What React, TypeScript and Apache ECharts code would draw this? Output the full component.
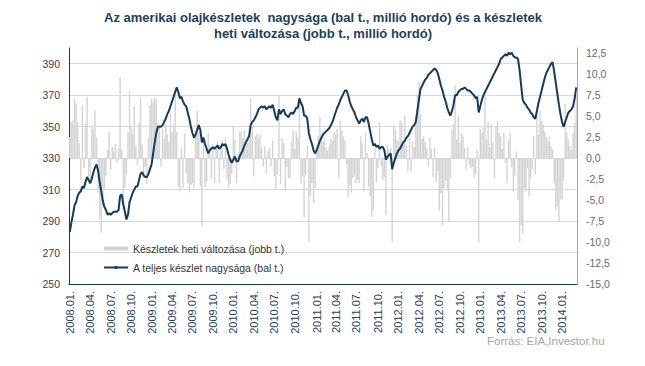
import { useEffect, useRef } from 'react';
import * as echarts from 'echarts';

// Weekly US crude oil inventory (million barrels), Jan 2008 – Mar 2014
const inventory = [
  283, 289, 294, 300, 302, 306, 308, 309, 312, 311,
  315, 318, 316, 314, 317, 321, 324, 326, 322, 315,
  309, 303, 299, 297, 294, 295, 294, 295, 296, 296,
  296, 297, 306, 307, 301, 296, 291, 294, 302, 305,
  308, 310, 312, 312, 316, 320, 321, 319, 318, 318,
  320, 323, 326, 333, 340, 346, 350, 350, 350, 351,
  353, 355, 358, 360, 363, 366, 369, 372, 375, 372,
  368, 369, 366, 364, 363, 359, 355, 350, 346, 343,
  345, 348, 351, 348, 340, 343, 339, 336, 333, 335,
  336, 337, 336, 337, 338, 336, 337, 339, 338, 339,
  336, 332, 329, 327, 329, 331, 328, 328, 331, 333,
  335, 338, 340, 342, 344, 351, 353, 354, 356, 358,
  361, 362, 363, 362, 363, 361, 362, 363, 362, 364,
  360, 356, 354, 361, 358, 360, 361, 358, 357, 356,
  358, 359, 358, 360, 362, 362, 368, 365, 363, 357,
  357, 355, 346, 342, 339, 335, 333, 335, 338, 341,
  343, 345, 346, 347, 348, 349, 351, 353, 356, 359,
  362, 364, 367, 369, 371, 373, 373, 370, 366, 363,
  361, 359, 356, 354, 352, 354, 355, 353, 356, 356,
  352, 347, 342, 338, 339, 337, 338, 336, 337, 337,
  335, 329, 331, 332, 333, 323, 327, 330, 333, 335,
  336, 338, 340, 341, 343, 344, 346, 348, 350, 351,
  353, 360, 367, 374, 376, 378, 380, 381, 383, 384,
  385, 386, 387, 386, 384, 380, 376, 373, 369, 366,
  362, 359, 357, 360, 364, 370, 370, 372, 373, 374,
  374, 375, 374, 373, 373, 372, 371, 370, 368, 369,
  359, 363, 367, 370, 372, 374, 376, 378, 380, 382,
  384, 386, 388, 390, 393, 394, 395, 396, 395, 397,
  396, 397, 395, 394, 394, 393, 386, 376, 367, 365,
  364, 362, 361, 359, 358, 356, 355, 360, 365, 369,
  373, 377, 381, 384, 386, 388, 390, 391, 385, 378,
  371, 364, 358, 353, 350, 353, 356, 359, 360, 361,
  363, 368, 375,
];

// Weekly change of inventory (million barrels)
const weeklyChange = [
  2.5, 4.3, 4.5, 7.1, 6.5, 4.3, 1.8, -2.6, 6.3, -1.2,
  4.1, 7.3, -2.2, -2.9, 3.9, 3.5, 5.6, 2.4, -4.1, -7.2,
  -8.9, -5.7, -3.8, -2.1, 1.0, 3.2, -1.4, 1.3, 0.8, 1.7,
  -0.6, 1.2, 9.6, 1.0, -6.1, -3.5, -1.9, 3.0, 8.0, 3.7,
  2.9, 6.1, 1.4, -0.8, 4.2, 7.1, 1.6, -2.3, -1.1, -3.1,
  2.4, 6.3, 7.0, 6.6, 7.2, 6.9, 4.2, 3.9, -1.0, 3.5,
  2.3, 3.9, 2.8, 1.9, 5.3, 3.1, 4.0, 8.0, 3.1, -3.4,
  -4.0, 1.2, -3.6, 3.0, -1.8, -3.0, -4.1, -3.2, -3.0, -3.5,
  2.4, 5.6, 3.1, -3.4, -8.1, 2.6, -3.5, -2.8, 3.0, 1.4,
  -2.5, 1.6, -3.0, 1.3, 2.0, -3.0, 1.2, 2.1, -1.3, 2.4,
  -2.6, -3.5, -3.1, -1.9, 3.7, 2.2, -3.0, 0.6, 3.1, 3.2,
  2.4, 3.3, 2.0, 1.8, 2.2, 7.1, 3.8, -2.2, 2.6, 2.9,
  2.3, 2.8, 1.2, -1.0, 1.4, -1.9, 0.9, 1.2, -1.0, 2.1,
  -2.2, -3.8, -2.0, 7.5, -3.1, 2.4, 1.8, -3.9, -1.1, -2.4,
  -2.4, 2.0, 3.3, 1.1, 3.2, 2.4, 7.1, -3.1, -2.2, -7.1,
  -2.0, 1.5, -10.0, -4.5, -3.0, -5.4, -3.6, 1.3, 2.7, 4.9,
  2.4, 1.9, 2.4, 1.2, 0.9, 1.5, 2.3, 2.1, 3.1, 2.8,
  3.5, -2.4, 4.4, 3.3, 2.6, 2.1, -0.8, -4.6, -3.2, -4.1,
  -2.4, -2.1, -3.0, -2.6, -3.0, 2.6, 1.8, -4.0, 3.0, 0.6,
  -3.4, -4.6, -7.0, -6.2, 1.1, -2.9, -1.2, 4.3, -1.0, -2.6,
  -2.3, -6.8, 1.5, 1.0, 1.2, -10.0, 3.9, 3.4, 2.2, 2.0,
  4.5, 4.2, 1.6, 5.0, 1.4, -1.6, 2.4, -1.6, 2.0, 1.3,
  4.8, 7.6, 9.1, 5.2, 2.3, 2.6, 1.9, 1.2, -1.0, 2.4,
  1.1, -2.3, 1.2, -2.9, -1.6, -6.3, -4.2, -8.0, -3.6, -2.7,
  -3.8, -7.6, -2.4, 3.4, 4.1, 8.7, 2.2, 5.0, 1.8, 3.0,
  2.6, 1.2, -1.4, 1.3, -0.8, -1.2, -1.1, -2.4, -2.0, 1.0,
  -10.0, 3.5, 3.0, 3.6, 7.5, 2.2, 4.3, 1.3, 4.0, 1.8,
  -2.4, 3.7, 4.4, 3.0, 2.6, 1.1, 3.0, -0.6, -3.0, 2.1,
  3.0, -1.1, -4.0, -2.1, 0.8, -5.0, -10.0, -8.0, -9.0, -3.6,
  -4.0, -1.2, -4.6, -2.4, -1.3, 2.6, -1.9, 5.2, 2.8, 5.6,
  4.4, 4.0, 3.1, 2.5, 2.0, 2.6, 1.4, 1.0, -3.0, -6.2,
  -5.8, -7.5, -4.9, -5.0, -2.7, 6.5, 3.0, 2.2, 1.4, 1.0,
  3.0, 4.2, 7.6,
];

const tickLabels = [
  '2008.01.', '2008.04.', '2008.07.', '2008.10.',
  '2009.01.', '2009.04.', '2009.07.', '2009.10.',
  '2010.01.', '2010.04.', '2010.07.', '2010.10.',
  '2011.01.', '2011.04.', '2011.07.', '2011.10.',
  '2012.01.', '2012.04.', '2012.07.', '2012.10.',
  '2013.01.', '2013.04.', '2013.07.', '2013.10.',
  '2014.01.',
];

const leftTickLabels = [250, 270, 290, 310, 330, 350, 370, 390];

const FIRST_WEEK = Date.UTC(2008, 0, 4);
const categories = inventory.map((_, i) => {
  const d = new Date(FIRST_WEEK + i * 7 * 86400000);
  return d.toISOString().slice(0, 10);
});

const labelByIndex = new Map<number, string>();
{
  let k = 0;
  let prevMonth = -1;
  categories.forEach((c, i) => {
    const m = Number(c.slice(5, 7)) - 1;
    if (m !== prevMonth && m % 3 === 0 && k < tickLabels.length) {
      labelByIndex.set(i, tickLabels[k]);
      k++;
    }
    prevMonth = m;
  });
}

const NAVY = '#133b5c';
const TITLE =
  'Az amerikai olajkészletek  nagysága (bal t., millió hordó) és a készletek\nheti változása (jobb t., millió hordó)';

export default function App() {
  const ref = useRef<HTMLDivElement>(null);

  useEffect(() => {
    if (!ref.current) return;
    const chart = echarts.init(ref.current, undefined, { renderer: 'svg' });
    chart.setOption({
      animation: false,
      backgroundColor: '#ffffff',
      grid: { left: 69, right: 68, top: 48, bottom: 82, containLabel: false },
      legend: {
        orient: 'vertical',
        left: 98,
        top: 238,
        itemWidth: 24,
        itemHeight: 4,
        itemGap: 8,
        itemTextGap: 5,
        textStyle: { fontFamily: 'Liberation Sans', fontSize: 10.5, color: '#333333' },
        data: [
          { name: 'Készletek heti változása (jobb t.)', icon: 'rect' },
          { name: 'A teljes készlet nagysága (bal t.)' },
        ],
      },
      xAxis: {
        type: 'category',
        data: categories,
        boundaryGap: true,
        axisLine: { onZero: false, lineStyle: { color: NAVY, width: 1 } },
        axisTick: { show: false },
        axisLabel: {
          rotate: 90,
          margin: 7,
          fontFamily: 'Liberation Sans',
          fontSize: 11,
          color: '#1f3f60',
          interval: (index: number) => labelByIndex.has(index),
          formatter: (_v: string, index: number) => labelByIndex.get(index) ?? '',
        },
        splitLine: { show: false },
      },
      yAxis: [
        {
          type: 'value',
          min: 250,
          max: 400,
          interval: 10,
          position: 'left',
          axisLine: { show: true, lineStyle: { color: NAVY, width: 1 } },
          axisTick: { show: false },
          axisLabel: {
            margin: 9,
            fontFamily: 'Liberation Sans',
            fontSize: 10.5,
            color: '#404040',
            showMaxLabel: false,
            formatter: (v: number) => (leftTickLabels.includes(v) ? String(v) : ''),
          },
          splitLine: {
            show: true,
            lineStyle: { color: ['#d9d9d9', 'transparent'], width: 1 },
          },
        },
        {
          type: 'value',
          min: -15,
          max: 13.1,
          interval: 2.5,
          position: 'right',
          axisLine: { show: true, lineStyle: { color: '#a6a6a6', width: 1 } },
          axisTick: { show: false },
          axisLabel: {
            margin: 9,
            fontFamily: 'Liberation Sans',
            fontSize: 10.5,
            color: '#6b6b6b',
            showMaxLabel: false,
            formatter: (v: number) => (v <= 12.5 ? v.toFixed(1).replace('.', ',') : ''),
          },
          splitLine: { show: false },
        },
      ],
      series: [
        {
          name: 'Készletek heti változása (jobb t.)',
          type: 'bar',
          yAxisIndex: 1,
          data: weeklyChange,
          barCategoryGap: '10%',
          itemStyle: { color: '#d4d4d4' },
          z: 2,
        },
        {
          name: 'A teljes készlet nagysága (bal t.)',
          type: 'line',
          yAxisIndex: 0,
          data: inventory,
          symbol: 'none',
          showSymbol: false,
          lineStyle: { color: NAVY, width: 2 },
          itemStyle: { color: NAVY },
          z: 3,
        },
      ],
      graphic: [
        {
          type: 'text',
          x: 323,
          y: 9,
          style: {
            text: TITLE,
            textAlign: 'center',
            fontFamily: 'Liberation Sans',
            fontSize: 13,
            fontWeight: 'bold',
            lineHeight: 16,
            fill: '#1b3f60',
          },
        },
        {
          type: 'text',
          left: 487,
          top: 335,
          style: {
            text: 'Forrás: EIA,Investor.hu',
            fontFamily: 'Liberation Sans',
            fontSize: 11.5,
            fill: '#a6a6a6',
          },
        },
      ],
    });
    return () => chart.dispose();
  }, []);

  return (
    <div
      ref={ref}
      style={{ position: 'fixed', left: 0, top: 0, width: 645, height: 366, background: '#fff' }}
    />
  );
}
